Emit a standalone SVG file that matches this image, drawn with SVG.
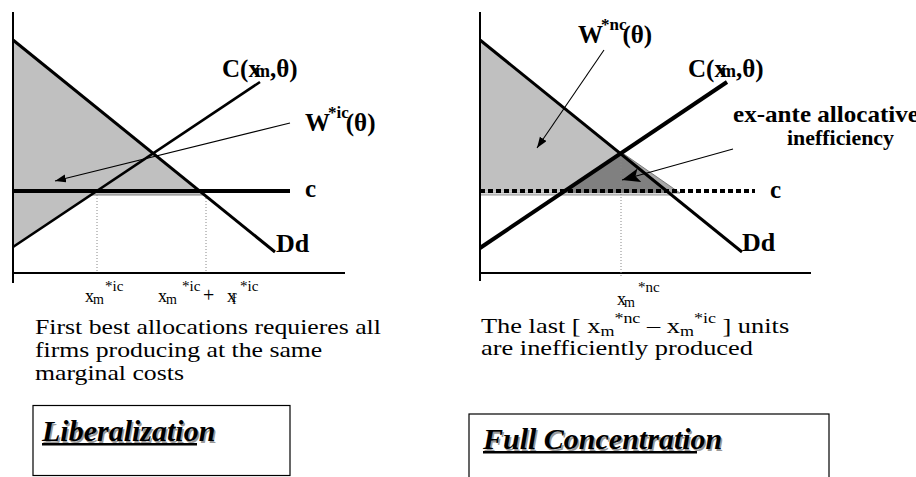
<svg xmlns="http://www.w3.org/2000/svg" width="916" height="477" viewBox="0 0 916 477">
<style>
  .ax{stroke:#000;stroke-width:2;fill:none}
  .thick{stroke:#000;stroke-width:3;fill:none;stroke-linecap:butt}
  .dot{stroke:#888;stroke-width:1;stroke-dasharray:1 2;fill:none}
  .thin{stroke:#000;stroke-width:1.1;fill:none}
  .lbl{font-family:"Liberation Serif","Times New Roman",serif;font-weight:bold;fill:#000}
  .reg{font-family:"Liberation Serif","Times New Roman",serif;fill:#000}
  .ttl{font-family:"Liberation Serif","Times New Roman",serif;font-weight:bold;font-style:italic;font-size:30px}
  .box{fill:#fff;stroke:#000;stroke-width:1.2}
</style>
<defs>
  <marker id="ah" markerUnits="userSpaceOnUse" markerWidth="12" markerHeight="10" refX="11" refY="4" orient="auto">
    <path d="M0,0 L11,4 L0,8 Z" fill="#000"/>
  </marker>
  <marker id="ahBig" markerUnits="userSpaceOnUse" markerWidth="20" markerHeight="16" refX="18" refY="7" orient="auto">
    <path d="M0,0 L18,7 L0,14 L4,7 Z" fill="#000"/>
  </marker>
</defs>
<rect width="916" height="477" fill="#fff"/>

<!-- LEFT PANEL -->
<g id="left-areas">
  <polygon points="13,40 205,195 91,195 13,247" fill="#c0c0c0" stroke="#808080" stroke-width="1"/>
</g>
<g id="left-axes">
  <line class="ax" x1="13" y1="12" x2="13" y2="283"/>
  <line class="ax" x1="13" y1="273" x2="345" y2="273"/>
  <line class="dot" x1="97" y1="195" x2="97" y2="272"/>
  <line class="dot" x1="206" y1="195" x2="206" y2="272"/>
</g>
<g id="left-curves">
  <line class="thick" x1="13" y1="40" x2="275" y2="252"/>
  <line class="thick" x1="13" y1="247" x2="260" y2="82" style="stroke-width:2.6"/>
  <line class="thick" x1="13" y1="191" x2="290" y2="191" style="stroke-width:4"/>
</g>
<g id="left-connectors">
  <line class="thin" x1="290" y1="123" x2="55" y2="181" marker-end="url(#ah)"/>
</g>
<g id="left-labels">
  <text class="lbl" x="222" y="77" font-size="25">C(x<tspan font-size="18" dx="-6">m</tspan>,θ)</text>
  <text class="lbl" x="305" y="131" font-size="25">W<tspan font-size="17" dx="-2" dy="-13">*ic</tspan><tspan dx="-3" dy="13">(θ)</tspan></text>
  <text class="lbl" x="305" y="197" font-size="25">c</text>
  <text class="lbl" x="276" y="252" font-size="26">Dd</text>
  <text class="reg" font-size="18"><tspan x="85" y="302">x</tspan><tspan font-size="14" x="93" y="304">m</tspan><tspan font-size="15" x="105" y="291">*ic</tspan></text>
  <text class="reg" font-size="18"><tspan x="158" y="302">x</tspan><tspan font-size="14" x="166" y="304">m</tspan><tspan font-size="15" x="182" y="291">*ic</tspan><tspan font-size="20" x="203" y="302">+</tspan><tspan x="227" y="302">x</tspan><tspan font-size="14" x="232" y="304">f</tspan><tspan font-size="15" x="240" y="291">*ic</tspan></text>
</g>
<g id="left-caption" transform="translate(35 334) scale(1.17 1)">
  <text class="reg" font-size="22"><tspan x="0" y="0">First best allocations requieres all</tspan><tspan x="0" y="23">firms producing at the same</tspan><tspan x="0" y="46">marginal costs</tspan></text>
</g>
<g id="liberalization">
  <rect class="box" x="33" y="405.5" width="257" height="70"/>
  <text class="ttl" x="43.5" y="442.5" fill="#999">Liberalization</text>
  <text class="ttl" x="42" y="441" fill="#000">Liberalization</text>
  <rect x="42" y="443" width="155" height="2.5" fill="#000"/>
</g>

<!-- RIGHT PANEL -->
<g id="right-areas">
  <polygon points="480,40 620,153 565,191 480,191" fill="#c0c0c0"/>
  <rect x="480" y="192" width="192" height="3" fill="#d8d8d8" stroke="#808080" stroke-width="0.8"/>
  <polygon points="621,152 680,193 670,193" fill="#a8a8a8" stroke="#666" stroke-width="0.8"/>
  <polygon points="620,153 562,193 672,193" fill="#808080"/>
</g>
<g id="right-axes">
  <line class="ax" x1="480" y1="12" x2="480" y2="281"/>
  <line class="ax" x1="480" y1="273" x2="811" y2="273"/>
  <line class="dot" x1="621" y1="155" x2="621" y2="278"/>
</g>
<g id="right-curves">
  <line class="thick" x1="480" y1="40" x2="742" y2="252"/>
  <line class="thick" x1="480" y1="248" x2="727" y2="82" style="stroke-width:4"/>
  <line class="thick" x1="480" y1="191" x2="755" y2="191" style="stroke-width:4;stroke-dasharray:5 3"/>
</g>
<g id="right-connectors">
  <line class="thin" x1="604" y1="50" x2="537" y2="148" marker-end="url(#ah)"/>
  <line class="thin" x1="733" y1="149" x2="622" y2="180" marker-end="url(#ahBig)"/>
</g>
<g id="right-labels">
  <text class="lbl" x="578" y="43" font-size="25">W<tspan font-size="17" dx="-2" dy="-13">*nc</tspan><tspan dx="-4" dy="13">(θ)</tspan></text>
  <text class="lbl" x="688" y="77" font-size="25">C(x<tspan font-size="18" dx="-6">m</tspan>,θ)</text>
  <text class="lbl" x="733" y="122" font-size="23" textLength="186" lengthAdjust="spacingAndGlyphs">ex-ante allocative</text>
  <text class="lbl" x="787" y="145" font-size="22" textLength="107" lengthAdjust="spacingAndGlyphs">inefficiency</text>
  <text class="lbl" x="770" y="198" font-size="25">c</text>
  <text class="lbl" x="742" y="251" font-size="26">Dd</text>
  <text class="reg" font-size="18"><tspan x="617" y="305">x</tspan><tspan font-size="14" x="624" y="307">m</tspan><tspan font-size="15" x="638" y="292">*nc</tspan></text>
</g>
<g id="right-caption" transform="translate(481 333) scale(1.2 1)">
  <text class="reg" font-size="22" x="0" y="0">The last [ x<tspan font-size="15" dy="3">m</tspan><tspan font-size="15" dy="-13">*nc</tspan><tspan dy="10"> – x</tspan><tspan font-size="15" dy="3">m</tspan><tspan font-size="15" dy="-13">*ic</tspan><tspan dy="10"> ] units</tspan></text>
  <text class="reg" font-size="22" x="0" y="22">are inefficiently produced</text>
</g>
<g id="full-concentration">
  <rect class="box" x="469" y="414" width="360" height="70"/>
  <text class="ttl" x="484.5" y="450.5" fill="#999">Full Concentration</text>
  <text class="ttl" x="483" y="449" fill="#000">Full Concentration</text>
  <rect x="483" y="451" width="214" height="2.5" fill="#000"/>
</g>
</svg>
